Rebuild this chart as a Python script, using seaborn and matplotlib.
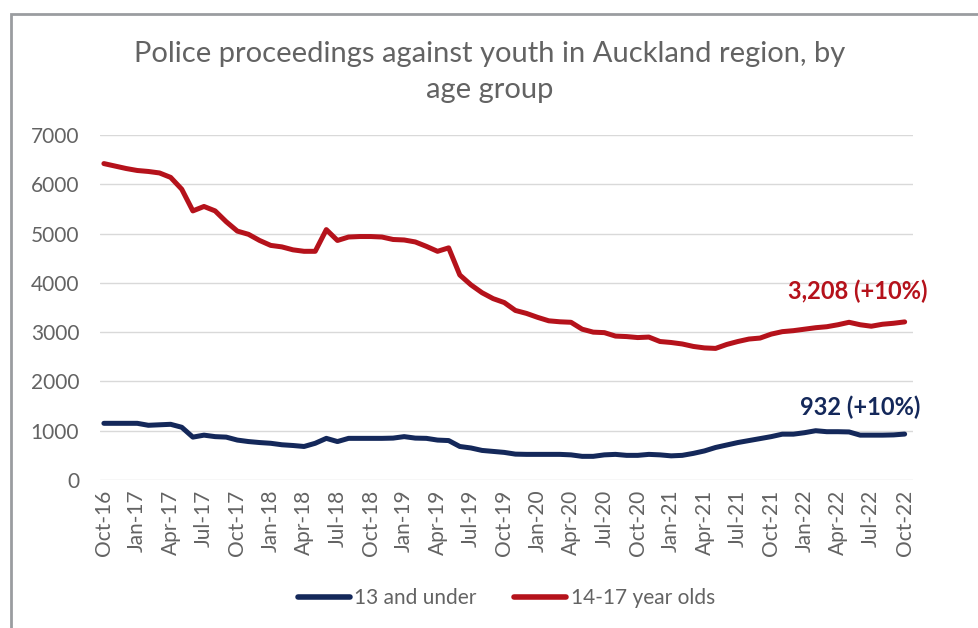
import numpy as np
import pandas as pd
import matplotlib.pyplot as plt
import matplotlib.patches as mpatches
import seaborn as sns

# monthly series, Oct-16 .. Oct-22
months = pd.date_range("2016-10-01", "2022-10-01", freq="MS")
month_labels = [d.strftime("%b-%y") for d in months]

under_13 = [1150, 1150, 1150, 1150, 1110, 1120, 1130, 1070, 870, 910,
            880, 870, 810, 780, 760, 745, 715, 700, 680, 745,
            845, 780, 845, 845, 845, 845, 850, 880, 850, 845,
            810, 800, 680, 650, 600, 580, 560, 525, 520, 520,
            520, 520, 510, 480, 480, 510, 520, 500, 500, 520,
            510, 490, 500, 540, 590, 660, 710, 760, 800, 840,
            880, 930, 930, 960, 1000, 980, 980, 975, 910, 910,
            910, 915, 932]

age_14_17 = [6420, 6370, 6320, 6280, 6260, 6230, 6140, 5900, 5460, 5550,
             5460, 5240, 5050, 4985, 4860, 4760, 4730, 4670, 4640, 4640,
             5080, 4860, 4930, 4940, 4940, 4930, 4880, 4870, 4830, 4740,
             4640, 4710, 4160, 3960, 3800, 3680, 3600, 3440, 3380, 3300,
             3230, 3210, 3200, 3060, 3000, 2990, 2920, 2910, 2890, 2900,
             2810, 2790, 2760, 2710, 2680, 2670, 2750, 2810, 2860, 2880,
             2960, 3010, 3030, 3060, 3090, 3110, 3150, 3200, 3150, 3120,
             3160, 3180, 3208]

series_names = ["13 and under", "14-17 year olds"]
colours = ["#14285A", "#B5121B"]
grey_txt = "#636363"

df = pd.DataFrame({
    "idx": list(range(len(months))) * 2,
    "count": under_13 + age_14_17,
    "group": [series_names[0]] * len(months) + [series_names[1]] * len(months),
})

sns.set_theme(style="white")
plt.rcParams['font.family'] = ['Lato', 'DejaVu Sans']

fig = plt.figure(figsize=(9.79, 6.28), dpi=100)
ax = fig.add_axes([100 / 979, 1 - 480 / 628, 813 / 979, 345 / 628])

sns.lineplot(data=df, x="idx", y="count", hue="group", palette=colours,
             linewidth=3.6, ax=ax, legend=True)

ax.set_ylim(0, 7000)
ax.set_xlim(-0.35, 72.75)
ax.set_yticks(range(0, 7001, 1000))
ax.tick_params(axis="y", labelsize=15, labelcolor=grey_txt, length=0, pad=15)
ax.set_xticks(range(0, len(months), 3))
ax.set_xticklabels(month_labels[::3], rotation=90)
ax.tick_params(axis="x", labelsize=15, labelcolor=grey_txt, length=0, pad=7)
ax.set_xlabel("")
ax.set_ylabel("")
ax.grid(axis="y", color="#D9D9D9", linewidth=1)
for s in ax.spines.values():
    s.set_visible(False)

fig.text(0.5, 1 - 72 / 628,
         "Police proceedings against youth in Auckland region, by\nage group",
         ha="center", va="center", fontsize=21, color=grey_txt, linespacing=1.45)

# end labels
ax.annotate("3,208 (+10%)", xy=(72, age_14_17[-1]), xytext=(-34, 22),
            textcoords="offset points", ha="center", va="center",
            fontsize=17, fontweight="bold", color=colours[1])
ax.annotate("932 (+10%)", xy=(72, under_13[-1]), xytext=(-32, 19),
            textcoords="offset points", ha="center", va="center",
            fontsize=17, fontweight="bold", color=colours[0])

leg = ax.legend(loc="center", bbox_to_anchor=(0.5, (480 - 598) / 345), ncol=2,
                frameon=False, fontsize=15, handlelength=2.5,
                columnspacing=1.8, handletextpad=0.2)
for t in leg.get_texts():
    t.set_color(grey_txt)
for h in leg.get_lines():
    h.set_linewidth(4)

# outer frame (left and top edges)
fig.patches.append(mpatches.Rectangle((11 / 979, -0.1), 1.2, 1 - 14 / 628 + 0.1,
                                      transform=fig.transFigure, fill=False,
                                      edgecolor="#9A9DA0", linewidth=2))

fig.savefig("out.png", dpi=100)
